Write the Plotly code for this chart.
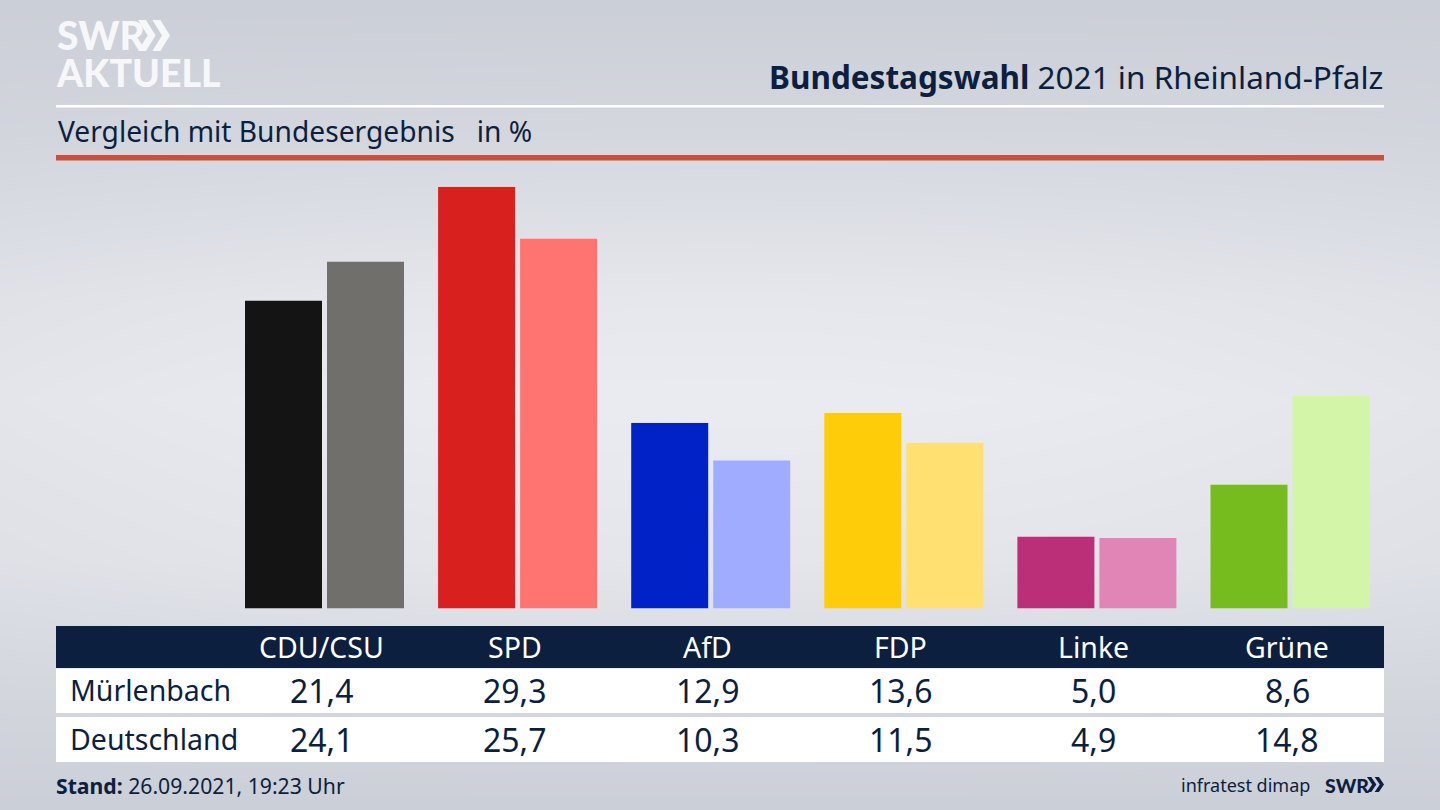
import base64, struct, zlib
import numpy as np
import plotly.graph_objects as go

# ---- data
parties = ["CDU/CSU", "SPD", "AfD", "FDP", "Linke", "Grüne"]
muerlenbach = [21.4, 29.3, 12.9, 13.6, 5.0, 8.6]
deutschland = [24.1, 25.7, 10.3, 11.5, 4.9, 14.8]
row_names = ["Mürlenbach", "Deutschland"]
colors_local = ["#141414", "#d8201f", "#0022c7", "#ffcc0a", "#bb2e78", "#77bc1f"]
colors_national = ["#716f6c", "#ff7370", "#a0acff", "#ffe070", "#e085b6", "#d3f5a8"]

W, H = 1440, 810
NAVY = "#0c1f3e"
FONT = "Noto Sans"
LOGO = "Lato"

def fx(px): return px / W
def fy(py): return 1 - py / H
def de(v): return f"{v:.1f}".replace(".", ",")

# background gradient as an embedded PNG
def background():
    ys = np.arange(H)
    xs = np.arange(W)
    vert = np.interp(ys, [0, 130, 300, 400, 560, 700, 810], [0.0, 0.28, 0.85, 1.0, 0.8, 0.3, 0.0])
    horiz = 1 - 0.22 * np.abs((xs - W / 2) / (W / 2)) ** 2
    t = np.outer(vert, horiz)[..., None]
    c0 = np.array([203, 207, 215.0])
    c1 = np.array([235, 236, 241.0])
    img = np.clip(c0 + (c1 - c0) * t, 0, 255).astype(np.uint8)
    raw = b"".join(b"\x00" + img[y].tobytes() for y in range(H))
    def chunk(tag, d):
        return struct.pack(">I", len(d)) + tag + d + struct.pack(">I", zlib.crc32(tag + d) & 0xffffffff)
    png = b"\x89PNG\r\n\x1a\n" + chunk(b"IHDR", struct.pack(">IIBBBBB", W, H, 8, 2, 0, 0, 0)) \
        + chunk(b"IDAT", zlib.compress(raw, 9)) + chunk(b"IEND", b"")
    return "data:image/png;base64," + base64.b64encode(png).decode()

fig = go.Figure()
idx = list(range(len(parties)))
fig.add_bar(x=idx, y=muerlenbach, name=row_names[0], marker=dict(color=colors_local, line_width=0))
fig.add_bar(x=idx, y=deutschland, name=row_names[1], marker=dict(color=colors_national, line_width=0))

shapes = []
def rect(x0, y0, x1, y1, color):
    shapes.append(dict(type="rect", xref="paper", yref="paper", x0=fx(x0), x1=fx(x1), y0=fy(y0), y1=fy(y1),
                       fillcolor=color, line_width=0, layer="below"))
def chevrons(x, y, w, h, color):
    # two solid chevrons, used in the logos
    for k in (0, 1):
        ox = x + k * w * 0.45
        cw, a = w * 0.55, w * 0.25
        pts = [(ox, y), (ox + a, y), (ox + cw, y + h / 2), (ox + a, y + h), (ox, y + h), (ox + cw - a, y + h / 2)]
        path = "M " + " L ".join(f"{fx(p):.5f},{fy(q):.5f}" for p, q in pts) + " Z"
        shapes.append(dict(type="path", xref="paper", yref="paper", path=path, fillcolor=color, line_width=0))

rect(56, 105, 1384, 107.5, "#ffffff")
rect(56, 155, 1384, 160.5, "#c8503c")
rect(56, 626, 1384, 668, NAVY)
rect(56, 668.5, 1384, 713, "#ffffff")
rect(56, 717, 1384, 762, "#ffffff")
chevrons(138, 20, 32, 31, "#f6f7f8")
chevrons(1367, 777, 17, 15, NAVY)

ann = []
def text(s, x, y, size, anchor="left", color=NAVY, family=FONT, weight=None, align=None):
    ann.append(dict(text=s, xref="paper", yref="paper", x=fx(x), y=fy(y), xanchor=anchor, yanchor="middle",
                    showarrow=False, align=align, font=dict(size=size, color=color, family=family, weight=weight)))

text("<b>Bundestagswahl</b> 2021 in Rheinland-Pfalz", 1385, 76.5, 31.5, "right")
text("Vergleich mit Bundesergebnis   in %", 55.5, 131.5, 28.2)
# logo block: one text, the small base size sets the tight line spacing
text("<span style='font-size:39px'>SWR</span><br><span style='font-size:37.5px'>AKTUELL</span>",
     54, 53, 28.5, color="#f6f7f8", family=LOGO, weight=900, align="left")
text("<b>Stand:</b> 26.09.2021, 19:23 Uhr", 54, 785, 21.2)
text("infratest dimap", 1312, 785, 18, "right")
text("SWR", 1323, 785, 19.5, family=LOGO, weight=900)
text(row_names[0], 68, 690, 28.5)
text(row_names[1], 68, 739, 28.5)

# table columns follow the party categories on the x axis
for i, p in enumerate(parties):
    for s, py, col, sz in ((p, 646.5, "#ffffff", 28.5), (de(muerlenbach[i]), 690, NAVY, 32), (de(deutschland[i]), 739, NAVY, 32)):
        ann.append(dict(text=s, xref="x", yref="paper", x=i, y=fy(py), xshift=-3, xanchor="center", yanchor="middle",
                        showarrow=False, font=dict(size=sz, color=col, family=FONT)))

X0, DX = 324.5, 193.1
BASE, PXU = 608.6, 14.39
fig.update_layout(
    width=W, height=H, autosize=False, margin=dict(l=0, r=0, t=0, b=0),
    paper_bgcolor="#e0e2e7", plot_bgcolor="rgba(0,0,0,0)", showlegend=False,
    barmode="group", bargap=0.1507, bargroupgap=0.061,
    xaxis=dict(range=[-X0 / DX, (W - X0) / DX], domain=[0, 1], visible=False, fixedrange=True),
    yaxis=dict(range=[0, 30], domain=[fy(BASE), fy(BASE - 30 * PXU)], visible=False, fixedrange=True),
    shapes=shapes, annotations=ann,
    images=[dict(source=background(), xref="paper", yref="paper", x=0, y=1, sizex=1, sizey=1,
                 xanchor="left", yanchor="top", sizing="stretch", layer="below")],
)
fig.write_html("out.html", config=dict(displayModeBar=False),
               post_script="document.body.style.margin='0';document.body.style.overflow='hidden';")
